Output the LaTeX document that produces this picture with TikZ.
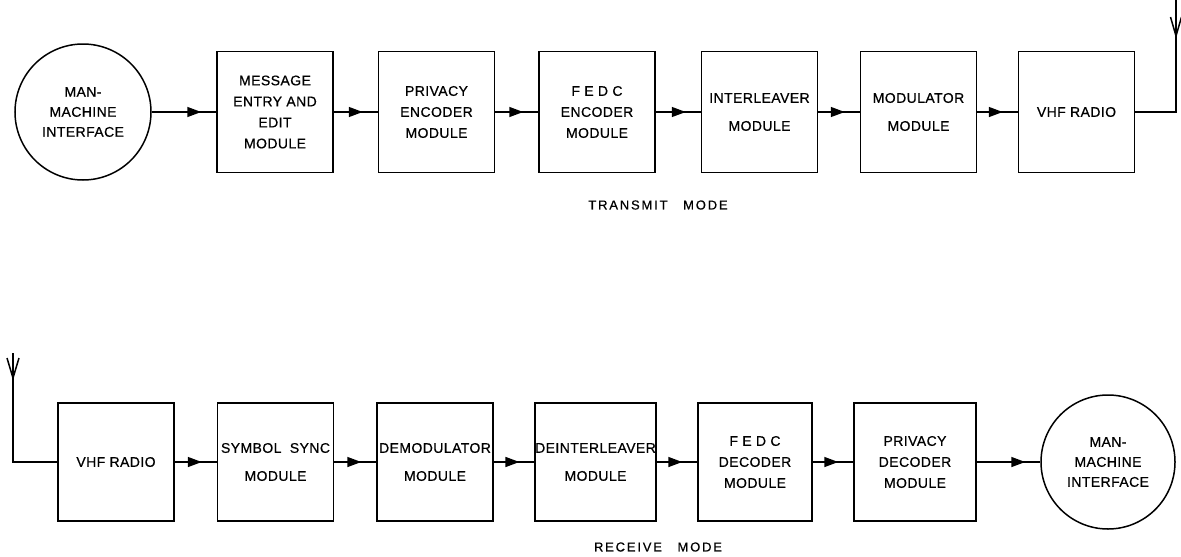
\documentclass[tikz,border=0pt]{standalone}
\usepackage{fontspec}
\setmainfont{Liberation Sans}
\newfontfamily\blkfont[LetterSpace=3,FakeBold=0.6]{Liberation Sans}
\newfontfamily\modefont[LetterSpace=14,FakeBold=0.6]{Liberation Sans}
\usetikzlibrary{arrows.meta,decorations.markings}
\tikzset{
  blk/.style={draw, line width=1.5pt, minimum width=116pt, minimum height=120pt,
    inner sep=0pt, align=center, font=\blkfont\fontsize{14}{21}\selectfont},
  mmi/.style={draw, circle, line width=1.5pt, minimum size=136pt, inner sep=0pt,
    align=center, font=\blkfont\fontsize{14}{20}\selectfont},
  flow/.style={line width=1.5pt, postaction={decorate},
    decoration={markings, mark=at position -15pt with {\arrow{Triangle[length=14pt,width=10pt]}}}},
  wire/.style={line width=1.5pt},
  modelabel/.style={font=\modefont\fontsize{13}{15}\selectfont, inner sep=0pt}
}
\begin{document}
\begin{tikzpicture}[x=1pt,y=-1pt]
\useasboundingbox (0,0) rectangle (1181,557);
% ---------------- transmit row ----------------
\node[mmi] (tm) at (83,112) {MAN-\\MACHINE\\INTERFACE};
\node[blk, minimum height=121pt] (t1) at (275,112) {MESSAGE\\ENTRY AND\\EDIT\\MODULE};
\node[blk, minimum height=121pt] (t2) at (436.5,112) {PRIVACY\\ENCODER\\MODULE};
\node[blk, minimum height=121pt] (t3) at (597,112) {F E D C\\ENCODER\\MODULE};
\node[blk, minimum height=121pt] (t4) at (759.5,112) {INTERLEAVER\\[7pt]MODULE};
\node[blk, minimum height=121pt] (t5) at (918.5,112) {MODULATOR\\[7pt]MODULE};
\node[blk, minimum height=121pt] (t6) at (1076.5,112) {VHF RADIO};
\draw[flow] (tm) -- (t1);
\draw[flow] (t1) -- (t2);
\draw[flow] (t2) -- (t3);
\draw[flow] (t3) -- (t4);
\draw[flow] (t4) -- (t5);
\draw[flow] (t5) -- (t6);
\coordinate (tacorner) at (1176,112);
\coordinate (tatop) at (1176,0);
\coordinate (taapex) at (1176,36);
\coordinate (tal) at (1170.5,17);
\coordinate (tar) at (1181.5,17);
\draw[wire] (t6) -- (tacorner) -- (tatop);
\draw[wire, line join=miter] (tal) -- (taapex) -- (tar);
\node[modelabel] (tmode) at (658,205) {TRANSMIT\hspace{1.2em}MODE};
% ---------------- receive row ----------------
\node[blk, minimum height=118pt] (r1) at (116,462) {VHF RADIO};
\node[blk, minimum height=118pt] (r2) at (275.5,462) {SYMBOL\hspace{0.6em}SYNC\\[7pt]MODULE};
\node[blk, minimum height=118pt] (r3) at (435,462) {DEMODULATOR\\[7pt]MODULE};
\node[blk, minimum height=118pt, minimum width=119pt] (r4) at (595.5,462) {DEINTERLEAVER\\[7pt]MODULE};
\node[blk, minimum height=118pt, minimum width=114pt] (r5) at (755,462) {F E D C\\DECODER\\MODULE};
\node[blk, minimum height=118pt, minimum width=122pt] (r6) at (915,462) {PRIVACY\\DECODER\\MODULE};
\node[mmi, minimum size=134pt] (rm) at (1108,462) {MAN-\\MACHINE\\INTERFACE};
\draw[flow] (r1) -- (r2);
\draw[flow] (r2) -- (r3);
\draw[flow] (r3) -- (r4);
\draw[flow] (r4) -- (r5);
\draw[flow] (r5) -- (r6);
\draw[flow] (r6) -- (rm);
\coordinate (ratop) at (13,353);
\coordinate (racorner) at (13,462);
\coordinate (raapex) at (13,378);
\coordinate (ral) at (7,358);
\coordinate (rar) at (19,358);
\draw[wire] (ratop) -- (racorner) -- (r1);
\draw[wire, line join=miter] (ral) -- (raapex) -- (rar);
\node[modelabel] (rmode) at (658,547) {RECEIVE\hspace{1.2em}MODE};
\end{tikzpicture}
\end{document}
